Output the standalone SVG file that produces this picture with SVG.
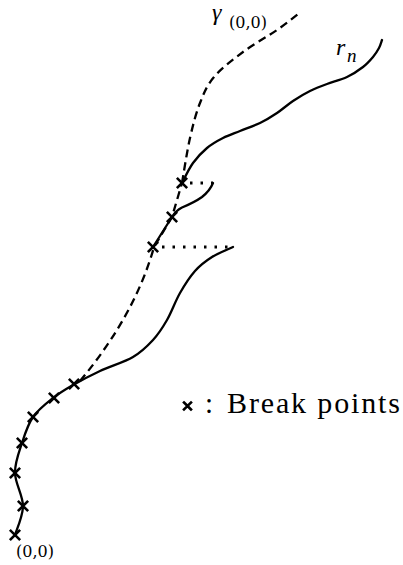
<svg xmlns="http://www.w3.org/2000/svg" width="403" height="565" viewBox="0 0 403 565">
<style>
.solid{fill:none;stroke:#000;stroke-width:2.3;stroke-linecap:round;stroke-linejoin:round}
.dash{fill:none;stroke:#000;stroke-width:2.3;stroke-dasharray:8 5}
.dot{fill:none;stroke:#000;stroke-width:2.8;stroke-dasharray:2.5 8}
.mk{fill:none;stroke:#000;stroke-width:2.6;stroke-linecap:square}
</style>
<defs>
<path id="x" class="mk" d="M-4.2,-4.2 L4.2,4.2 M-4.2,4.2 L4.2,-4.2"/>
</defs>
<g id="connectors">
<path id="gamma-lower" class="dash" d="M80,381 Q135,315 154,247 L172,217 L182,183"/>
<path id="gamma-upper" class="dash" d="M182,183 C183.3,175.5 187,151.3 190,138 C193,124.7 196,113.2 200,103 C204,92.8 206.8,85.5 214,77 C221.2,68.5 232.5,59.8 243,52 C253.5,44.2 267.8,36.3 277,30 C286.2,23.7 294.5,16.7 298,14"/>
<path id="r-lower" class="solid" d="M15,535 C16.3,530.2 23,516.3 23,506 C23,495.7 15.2,483.5 15,473 C14.8,462.5 19,452.3 22,443 C25,433.7 27.8,424.5 33,417 C38.2,409.5 46.3,403.3 53,398 C59.7,392.7 65.2,389.5 73,385 C80.8,380.5 90,375.7 100,371 C110,366.3 124.2,362.2 133,357 C141.8,351.8 147.3,346.2 153,340 C158.7,333.8 162.5,327.8 167,320 C171.5,312.2 175.3,301.2 180,293 C184.7,284.8 189.7,277 195,271 C200.3,265 205.7,261 212,257 C218.3,253 229.5,248.7 233,247"/>
<path id="r-middle" class="solid" d="M153,247 L172,217 C175,212 177,210 182,207.5 C188,205 195,202 202,197 C207,193 211,188 213,183"/>
<path id="r-upper" class="solid" d="M182,183 C183.8,179.7 188.8,168.8 193,163 C197.2,157.2 202,152.2 207,148 C212,143.8 217.5,140.8 223,138 C228.5,135.2 233.8,133.5 240,131 C246.2,128.5 253.8,126 260,123 C266.2,120 271.5,116.7 277,113 C282.5,109.3 287.5,104.7 293,101 C298.5,97.3 304.3,93.8 310,91 C315.7,88.2 320.8,86.3 327,84 C333.2,81.7 341,79.8 347,77 C353,74.2 358.7,70.3 363,67 C367.3,63.7 370.3,60.2 373,57 C375.7,53.8 377.5,50.8 379,48 C380.5,45.2 381.5,41.3 382,40"/>
<path id="dots-1" class="dot" d="M190,183 L213,183"/>
<path id="dots-2" class="dot" d="M162,247 L233,247"/>
</g>
<g id="breakpoints">
<use href="#x" x="15" y="535"/>
<use href="#x" x="23" y="506"/>
<use href="#x" x="15" y="473"/>
<use href="#x" x="22" y="443"/>
<use href="#x" x="33" y="417"/>
<use href="#x" x="54" y="398"/>
<use href="#x" x="74" y="384"/>
<use href="#x" x="153" y="247"/>
<use href="#x" x="172" y="217"/>
<use href="#x" x="182" y="183"/>
</g>
<g id="label-gamma">
<text x="212" y="20" font-family="'Liberation Serif', 'Times New Roman', Times, serif" font-size="24" font-style="italic">γ</text>
<text x="229" y="28" font-family="'DejaVu Serif', 'Liberation Serif', serif" font-size="16">(0,0)</text>
</g>
<g id="label-rn">
<text x="336" y="55" font-family="'Liberation Serif', 'Times New Roman', Times, serif" font-size="24" font-style="italic">r</text>
<text x="347" y="62" font-family="'Liberation Serif', 'Times New Roman', Times, serif" font-size="19" font-style="italic">n</text>
</g>
<g id="label-origin">
<text x="16" y="557" font-family="'DejaVu Serif', 'Liberation Serif', serif" font-size="16">(0,0)</text>
</g>
<g id="legend">
<path class="mk" d="M184,402.5 L191,409.5 M184,409.5 L191,402.5" stroke-width="2.2"/>
<text x="205" y="413" font-family="'Liberation Serif', 'Times New Roman', Times, serif" font-size="29">:</text>
<text x="227" y="413" font-family="'Liberation Serif', 'Times New Roman', Times, serif" font-size="30" textLength="173" lengthAdjust="spacing">Break points</text>
</g>
</svg>
